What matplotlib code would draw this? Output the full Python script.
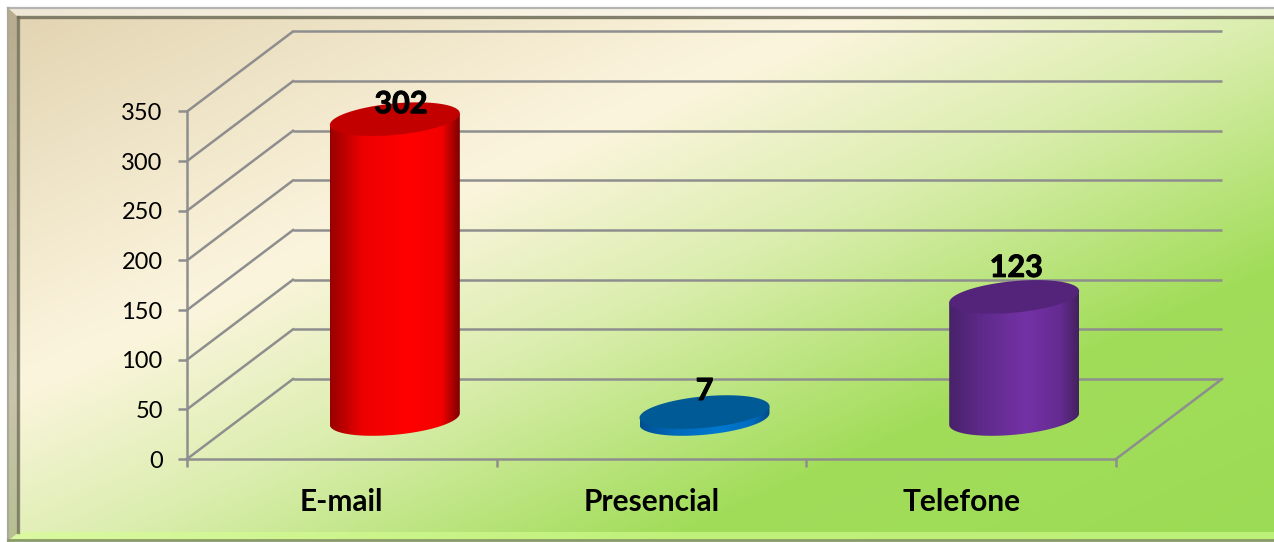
import numpy as np
import matplotlib
matplotlib.use("Agg")
import matplotlib.pyplot as plt
import matplotlib.patheffects as pe
from matplotlib.colors import LinearSegmentedColormap, to_rgb
from matplotlib.patches import Polygon
from matplotlib.transforms import Affine2D, IdentityTransform

categories = ["E-mail", "Presencial", "Telefone"]
values = [302, 7, 123]
y_ticks = [0, 50, 100, 150, 200, 250, 300, 350]

side_stops = [
    ["#980000", "#ee0000", "#ff0000", "#f40000", "#7d0000"],
    ["#004f90", "#0068b8", "#0078d0", "#006cc0", "#004a88"],
    ["#482269", "#5e2a8a", "#7432a6", "#642b90", "#44215f"],
]
top_colors = ["#c20000", "#005a96", "#54247a"]
label_dx = [6, 0, 2]
label_dy = [15, 21, 29]

W, H = 1274, 542
fig = plt.figure(figsize=(W / 100, H / 100), dpi=100, facecolor="white")

# ---- background panel ----
bg = fig.add_axes([0, 0, 1, 1], zorder=0)
bg.set_xlim(0, W); bg.set_ylim(H, 0); bg.axis("off"); bg.autoscale(False)
xx, yy = np.meshgrid(np.arange(W) + .5, np.arange(H) + .5)
s = 0.406 * xx + 0.914 * yy
pos = [26, 359, 530, 760, 1004]
cols = np.array([to_rgb(c) for c in ["#e3d5b3", "#fcf5de", "#dceeb0", "#a2dd5a", "#9cdb55"]])
rgb = np.dstack([np.interp(s, pos, cols[:, i]) for i in range(3)])
L, T, B = 8, 8, 541
clip = Polygon([(L, T), (W, T), (W, B), (L, B)], transform=bg.transData)
img = bg.imshow(rgb, extent=(0, W, H, 0), aspect="auto", zorder=0, interpolation="nearest")
img.set_clip_path(clip)
# bevelled frame
il, it, ib = 19, 18, 532
bg.add_patch(Polygon([(L, T), (W, T), (W, it), (il, it)], fc="white", alpha=.45, ec="none", zorder=1))
bg.add_patch(Polygon([(L, T), (il, it), (il, ib), (L, B)], fc="#57533a", alpha=.30, ec="none", zorder=1))
bg.add_patch(Polygon([(L, B), (il, ib), (W, ib), (W, B)], fc="#d4ff90", alpha=.60, ec="none", zorder=1))
bg.plot([L, W], [T, T], color="#b4b4b0", lw=1.6, zorder=2)
bg.plot([L, L], [T, B], color="#a9a99c", lw=1.6, zorder=2)
bg.plot([L, W], [B - 1, B - 1], color="#8a9a68", lw=2.0, zorder=2)
bg.plot([il - 1, W], [it - 1, it - 1], color="#6e6c58", lw=2.4, alpha=.85, zorder=2)
bg.plot([il - 1, il - 1], [it - 1, ib], color="#6e6c58", lw=2.4, alpha=.75, zorder=2)

# ---- chart axes: the front plane of the 3D box ----
x0, x1, y0, y350 = 187, 1116, 459, 111.5
ax = fig.add_axes([x0 / W, (H - y0) / H, (x1 - x0) / W, (y0 - y350) / H], zorder=1)
ax.patch.set_visible(False)
ax.set_xlim(0, len(categories)); ax.set_ylim(0, max(y_ticks)); ax.autoscale(False)
GRID = "#8e8e8e"
LW = 1.8
for sp in ("top", "right"):
    ax.spines[sp].set_visible(False)
for sp in ("left", "bottom"):
    ax.spines[sp].set_color(GRID); ax.spines[sp].set_linewidth(LW)

ax.set_yticks(y_ticks)
ax.set_yticklabels([str(v) for v in y_ticks], fontsize=17, family="Lato", color="black")
ax.tick_params(axis="y", length=6.5, width=LW, color=GRID, pad=11)
ax.set_xticks(range(len(categories) + 1)); ax.set_xticklabels([])
ax.tick_params(axis="x", which="major", length=6, width=LW, color=GRID)
ax.set_xticks(np.arange(len(categories)) + .5, minor=True)
ax.set_xticklabels(categories, minor=True, fontsize=21.5, family="Lato", fontweight="bold", color="black")
ax.tick_params(axis="x", which="minor", length=0, pad=21)

# depth offset (pixels) applied after the data transform
DX, DY = 106, 80
back = ax.transData + Affine2D().translate(DX, DY)
n = len(categories)
for v in y_ticks:
    ax.plot([0, n], [v, v], transform=back, color=GRID, lw=LW, clip_on=False, zorder=1,
            solid_capstyle="butt")
    p = ax.transData.transform((0, v))
    ax.plot([p[0], p[0] + DX], [p[1], p[1] + DY], transform=IdentityTransform(),
            color=GRID, lw=LW, clip_on=False, zorder=1)
p = ax.transData.transform((n, 0))
ax.plot([p[0], p[0] + DX], [p[1], p[1] + DY], transform=IdentityTransform(),
        color=GRID, lw=LW, clip_on=False, zorder=1)

# ---- cylinders ----
R1, R2 = 61.0, 28.0
UX, UY = .8, .6
T0 = np.arctan2(UX * R2, R1)
halfw = np.hypot(R1, UX * R2)

def ring(c, t):
    return np.c_[c[0] + R1 * np.cos(t) + R2 * UX * np.sin(t), c[1] + R2 * UY * np.sin(t)]

mid = ax.transData + Affine2D().translate(DX / 2, DY / 2)
for i, (cat, val) in enumerate(zip(categories, values)):
    base = mid.transform((i + .5, 0))
    top = mid.transform((i + .5, val))
    arc = ring(base, np.linspace(T0 + np.pi, T0 + 2 * np.pi, 120))
    side = np.vstack([arc, ring(top, np.array([T0])), ring(top, np.array([T0 + np.pi]))])
    cm = LinearSegmentedColormap.from_list(f"c{i}", list(zip([0, .25, .6, .86, 1], side_stops[i])))
    im = ax.imshow(np.linspace(0, 1, 256)[None, :], cmap=cm, aspect="auto", vmin=0, vmax=1,
                   extent=(top[0] - halfw, top[0] + halfw, base[1] - 30, top[1] + 30),
                   origin="lower", transform=IdentityTransform(), zorder=3, clip_on=True)
    im.set_clip_path(Polygon(side, transform=IdentityTransform()))
    ax.add_patch(Polygon(ring(top, np.linspace(0, 2 * np.pi, 200)), closed=True,
                         transform=IdentityTransform(), fc=top_colors[i], ec="none",
                         zorder=4, clip_on=False))
    ax.text(top[0] + label_dx[i], top[1] + label_dy[i], str(val), transform=IdentityTransform(),
            ha="center", va="center", fontsize=22, family="Lato", fontweight="bold",
            color="black", zorder=5, clip_on=False,
            path_effects=[pe.withStroke(linewidth=.7, foreground="black")])

fig.savefig("out.png", dpi=100, facecolor="white")
